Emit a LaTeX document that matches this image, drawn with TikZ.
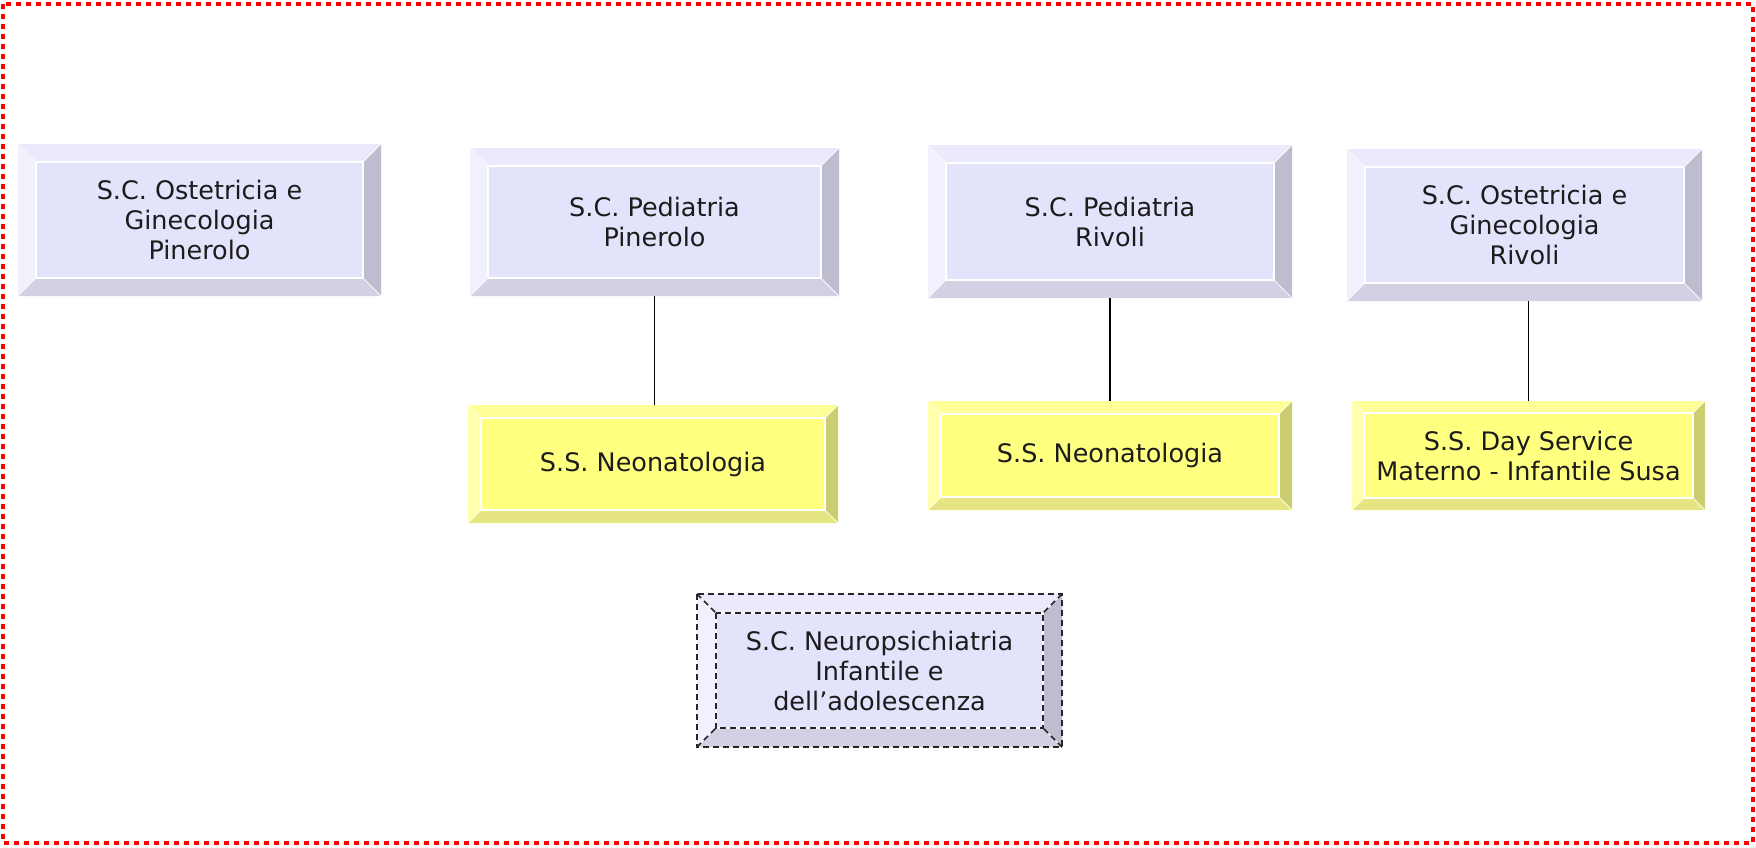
\documentclass[tikz,border=0pt]{standalone}
\usepackage{fontspec}
\newfontfamily\boxfont{DejaVu Sans}
\definecolor{txt}{HTML}{1C1C1C}
\definecolor{bface}{HTML}{E3E3FB}
\definecolor{btop}{HTML}{EAEAFC}
\definecolor{bleft}{HTML}{F1F1FD}
\definecolor{bright}{HTML}{BDBDCF}
\definecolor{bbot}{HTML}{D1D1E3}
\definecolor{yface}{HTML}{FFFF80}
\definecolor{ytop}{HTML}{FFFF99}
\definecolor{yleft}{HTML}{FFFFAE}
\definecolor{yright}{HTML}{CCCC70}
\definecolor{ybot}{HTML}{E5E583}
\definecolor{frame}{HTML}{FF0000}
\tikzset{
  bev/.store in=\bevw, bev=18,
  bevbox/.style={rectangle, inner sep=0pt, align=center, text=txt,
    font=\boxfont\fontsize{25.5pt}{30pt}\selectfont,
    path picture={
      \path (path picture bounding box.north west) coordinate (pNW)
            (path picture bounding box.south east) coordinate (pSE)
            ([xshift=\bevw pt,yshift=-\bevw pt]path picture bounding box.north west) coordinate (iNW)
            ([xshift=-\bevw pt,yshift=\bevw pt]path picture bounding box.south east) coordinate (iSE);
      \fill[\ctop] (pNW) -- (pNW -| pSE) -- (iNW -| iSE) -- (iNW) -- cycle;
      \fill[\cright] (pNW -| pSE) -- (pSE) -- (iSE) -- (iNW -| iSE) -- cycle;
      \fill[\cbot] (pSE) -- (pNW |- pSE) -- (iNW |- iSE) -- (iSE) -- cycle;
      \fill[\cleft] (pNW |- pSE) -- (pNW) -- (iNW) -- (iNW |- iSE) -- cycle;
      \fill[\cface] (iNW) rectangle (iSE);
      \draw[white, line width=1.2pt] (iNW) rectangle (iSE);
      \draw[white!70!\cface, line width=0.8pt] (pNW) -- (iNW) (pNW -| pSE) -- (iNW -| iSE)
            (pSE) -- (iSE) (pNW |- pSE) -- (iNW |- iSE);
    }},
  bluebox/.style={bevbox, bev=18,
    /utils/exec={\def\ctop{btop}\def\cright{bright}\def\cbot{bbot}\def\cleft{bleft}\def\cface{bface}}},
  yelbox/.style={bevbox, bev=13,
    /utils/exec={\def\ctop{ytop}\def\cright{yright}\def\cbot{ybot}\def\cleft{yleft}\def\cface{yface}}},
  link/.style={draw=black, line width=1.5pt},
  dashline/.style={draw=black!85, line width=1.5pt, dash pattern=on 6pt off 4pt}
}
\begin{document}
\begin{tikzpicture}[x=1pt,y=-1pt]
\useasboundingbox (0,0) rectangle (1756,847);
\draw[frame, line width=4pt, dash pattern=on 5pt off 5pt] (3,4) rectangle (1753,843);

\node[bluebox, minimum width=363pt, minimum height=152pt] (b1) at (199.5,220)
  {S.C. Ostetricia e\\Ginecologia\\Pinerolo};
\node[bluebox, minimum width=369pt, minimum height=148pt] (b2) at (654.5,222)
  {S.C. Pediatria\\Pinerolo};
\node[bluebox, minimum width=364pt, minimum height=153pt] (b3) at (1110,221.5)
  {S.C. Pediatria\\Rivoli};
\node[bluebox, minimum width=355pt, minimum height=152pt] (b4) at (1524.5,225)
  {S.C. Ostetricia e\\Ginecologia\\Rivoli};

\node[yelbox, minimum width=370pt, minimum height=118pt] (y1) at (653,464)
  {S.S. Neonatologia};
\node[yelbox, minimum width=364pt, minimum height=109pt] (y2) at (1110,455.5)
  {S.S. Neonatologia};
\node[yelbox, bev=12, minimum width=353pt, minimum height=109pt] (y3) at (1528.5,455.5)
  {S.S. Day Service\\Materno - Infantile Susa};

\node[bluebox, bev=19, minimum width=365pt, minimum height=153pt] (np) at (879.5,670.5)
  {S.C. Neuropsichiatria\\Infantile e\\dell’adolescenza};
\path ([xshift=19pt,yshift=-19pt]np.north west) coordinate (nNW)
      ([xshift=-19pt,yshift=19pt]np.south east) coordinate (nSE);
\draw[dashline] (np.north west) rectangle (np.south east);
\draw[dashline] (nNW) rectangle (nSE);
\draw[dashline] (np.north west) -- (nNW);
\draw[dashline] (np.north east) -- (nNW -| nSE);
\draw[dashline] (np.south east) -- (nSE);
\draw[dashline] (np.south west) -- (nNW |- nSE);

\draw[link] (b2.south) -- (b2.south |- y1.north);
\draw[link] (b3.south) -- (y2.north);
\draw[link] (y3.north |- b4.south) -- (y3.north);
\end{tikzpicture}
\end{document}
